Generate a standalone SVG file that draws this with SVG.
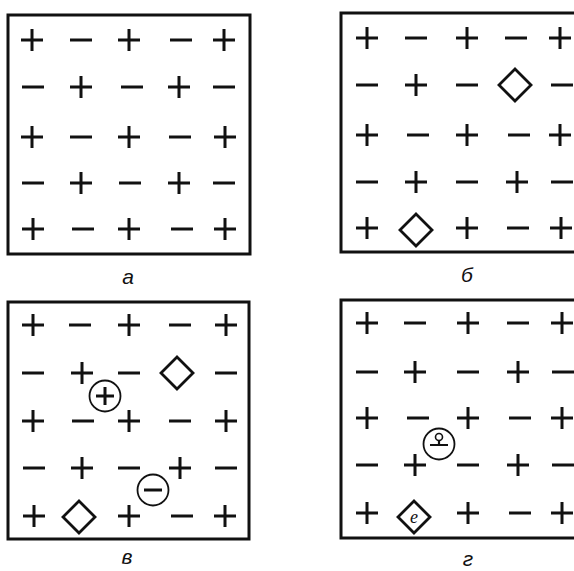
<svg xmlns="http://www.w3.org/2000/svg" xmlns:xlink="http://www.w3.org/1999/xlink" width="574" height="571" viewBox="0 0 574 571">
<style>
.box{fill:none;stroke:#111;stroke-width:3}
.sym{stroke:#111;stroke-width:3;fill:none}
.dia{fill:none;stroke:#111;stroke-width:2.8}
.ring{fill:none;stroke:#111;stroke-width:1.8}
.lbl{font-family:"Liberation Sans",Arial,sans-serif;font-style:italic;font-size:21px;fill:#111;text-anchor:middle}
</style>
<defs>
<path id="p" class="sym" d="M-11 0H11M0 -11V11"/>
<path id="m" class="sym" d="M-11 0H11"/>
<path id="d" class="dia" d="M0 -16L16 0L0 16L-16 0Z"/>
</defs>
<rect width="574" height="571" fill="#fff"/>
<g id="panel-a">
<rect class="box" x="8" y="15" width="242" height="239"/>
<use href="#p" x="32" y="40"/><use href="#m" x="81" y="40"/><use href="#p" x="129" y="40"/><use href="#m" x="181" y="40"/><use href="#p" x="224" y="40"/>
<use href="#m" x="33" y="87"/><use href="#p" x="81" y="87"/><use href="#m" x="132" y="87"/><use href="#p" x="179" y="87"/><use href="#m" x="224" y="87"/>
<use href="#p" x="32" y="137"/><use href="#m" x="81" y="137"/><use href="#p" x="129" y="137"/><use href="#m" x="180" y="137"/><use href="#p" x="225" y="137"/>
<use href="#m" x="33" y="183"/><use href="#p" x="81" y="183"/><use href="#m" x="130" y="183"/><use href="#p" x="179" y="183"/><use href="#m" x="224" y="183"/>
<use href="#p" x="33" y="229"/><use href="#m" x="83" y="229"/><use href="#p" x="129" y="229"/><use href="#m" x="182" y="229"/><use href="#p" x="225" y="229"/>
<text class="lbl" x="128" y="284">а</text>
</g>
<g id="panel-b">
<rect class="box" x="341" y="13" width="260" height="239"/>
<use href="#p" x="367" y="38"/><use href="#m" x="416" y="38"/><use href="#p" x="467" y="38"/><use href="#m" x="516" y="38"/><use href="#p" x="560" y="38"/>
<use href="#m" x="367" y="85"/><use href="#p" x="416" y="85"/><use href="#m" x="467" y="85"/><use href="#d" x="515" y="85"/><use href="#m" x="562" y="85"/>
<use href="#p" x="367" y="135"/><use href="#m" x="418" y="135"/><use href="#p" x="467" y="135"/><use href="#m" x="519" y="135"/><use href="#p" x="560" y="135"/>
<use href="#m" x="367" y="182"/><use href="#p" x="416" y="182"/><use href="#m" x="467" y="182"/><use href="#p" x="517" y="182"/><use href="#m" x="562" y="182"/>
<use href="#p" x="367" y="228"/><use href="#d" x="416" y="230"/><use href="#p" x="467" y="228"/><use href="#m" x="518" y="228"/><use href="#p" x="561" y="228"/>
<text class="lbl" x="467" y="282">б</text>
</g>
<g id="panel-c">
<rect class="box" x="8" y="302" width="241" height="237"/>
<use href="#p" x="33" y="325"/><use href="#m" x="80" y="325"/><use href="#p" x="129" y="325"/><use href="#m" x="180" y="325"/><use href="#p" x="226" y="325"/>
<use href="#m" x="33" y="373"/><use href="#p" x="82" y="373"/><use href="#m" x="129" y="373"/><use href="#d" x="177" y="373"/><use href="#m" x="226" y="373"/>
<use href="#p" x="33" y="421"/><use href="#m" x="83" y="421"/><use href="#p" x="129" y="421"/><use href="#m" x="180" y="421"/><use href="#p" x="226" y="421"/>
<use href="#m" x="34" y="468"/><use href="#p" x="82" y="468"/><use href="#m" x="129" y="468"/><use href="#p" x="180" y="468"/><use href="#m" x="226" y="468"/>
<use href="#p" x="34" y="516"/><use href="#d" x="79" y="517"/><use href="#p" x="129" y="516"/><use href="#m" x="182" y="516"/><use href="#p" x="225" y="516"/>
<circle class="ring" cx="105" cy="396" r="15.5"/><path class="sym" d="M96 396H114M105 387V405"/>
<circle class="ring" cx="153" cy="490" r="15.5"/><path class="sym" d="M144 490H162"/>
<text class="lbl" x="127" y="564">в</text>
</g>
<g id="panel-d">
<rect class="box" x="341" y="300" width="260" height="238"/>
<use href="#p" x="367" y="323"/><use href="#m" x="415" y="323"/><use href="#p" x="468" y="323"/><use href="#m" x="518" y="323"/><use href="#p" x="562" y="323"/>
<use href="#m" x="367" y="372"/><use href="#p" x="415" y="372"/><use href="#m" x="468" y="372"/><use href="#p" x="518" y="372"/><use href="#m" x="563" y="372"/>
<use href="#p" x="367" y="418"/><use href="#m" x="418" y="418"/><use href="#p" x="468" y="418"/><use href="#m" x="520" y="418"/><use href="#p" x="562" y="418"/>
<use href="#m" x="367" y="465"/><use href="#p" x="415" y="465"/><use href="#m" x="468" y="465"/><use href="#p" x="518" y="465"/><use href="#m" x="563" y="465"/>
<use href="#p" x="367" y="513"/><use href="#d" x="414" y="517"/><use href="#p" x="468" y="513"/><use href="#m" x="520" y="513"/><use href="#p" x="562" y="513"/>
<circle class="ring" cx="439" cy="444" r="15.5"/>
<circle cx="439" cy="437" r="3.5" fill="none" stroke="#111" stroke-width="1.6"/>
<path d="M439 440.5V444M430 445H448" stroke="#111" stroke-width="2.2" fill="none"/>
<text x="414" y="523" font-family="Liberation Serif,serif" font-style="italic" font-size="18" text-anchor="middle" fill="#111">e</text>
<text class="lbl" x="468" y="566" font-size="19">г</text>
</g>
</svg>
